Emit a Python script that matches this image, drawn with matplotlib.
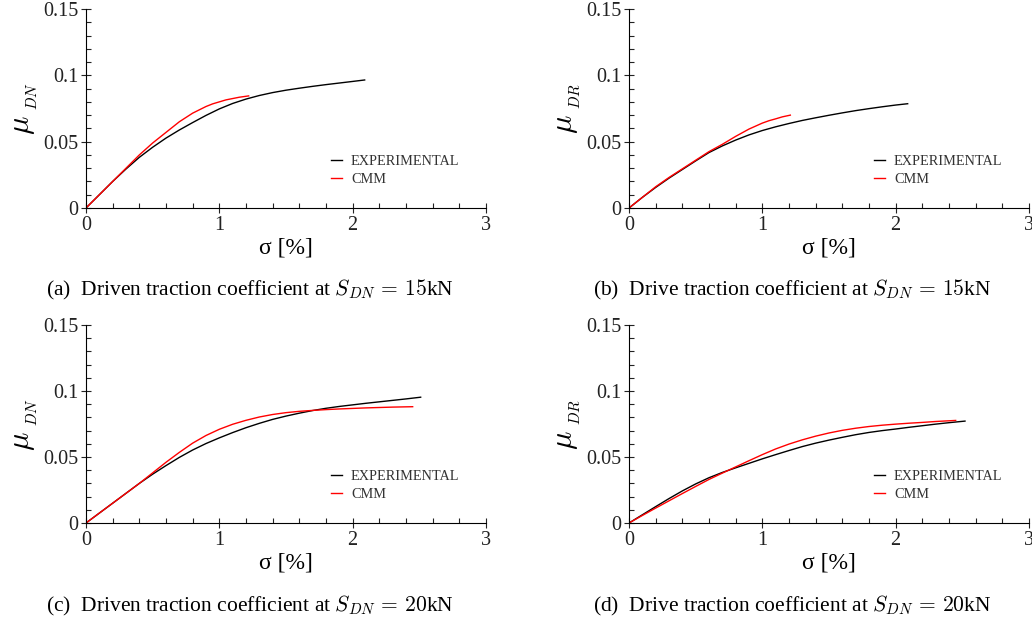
import numpy as np
import matplotlib.pyplot as plt
from matplotlib.ticker import MultipleLocator

plt.rcParams['font.family'] = ['Liberation Serif', 'DejaVu Serif']
plt.rcParams['mathtext.fontset'] = 'cm'

# =====================================
# Data (sigma in %, mu)
# =====================================
# (a) driven, 15 kN
a_exp_x = [0, 0.1, 0.2, 0.3, 0.4, 0.5, 0.6, 0.7, 0.8, 0.9, 1.0, 1.1, 1.2, 1.3, 1.4,
           1.5, 1.6, 1.7, 1.8, 1.9, 2.0, 2.09]
a_exp_y = [0, 0.0100, 0.0200, 0.0294, 0.0382, 0.0458, 0.0527, 0.0588, 0.0644, 0.0698,
           0.0747, 0.0788, 0.0821, 0.0848, 0.0870, 0.0888, 0.0903, 0.0917, 0.0930,
           0.0942, 0.0954, 0.0965]
a_cmm_x = [0, 0.1, 0.2, 0.3, 0.4, 0.5, 0.6, 0.7, 0.8, 0.9, 0.95, 1.0, 1.05, 1.1, 1.15, 1.22]
a_cmm_y = [0, 0.010, 0.020, 0.030, 0.040, 0.049, 0.057, 0.065, 0.0715, 0.0765, 0.0785,
           0.0800, 0.0815, 0.0825, 0.0835, 0.0845]

# (b) drive, 15 kN
b_exp_x = [0, 0.1, 0.2, 0.3, 0.4, 0.5, 0.6, 0.7, 0.8, 0.9, 1.0, 1.1, 1.2, 1.3, 1.4,
           1.5, 1.6, 1.7, 1.8, 1.9, 2.0, 2.09]
b_exp_y = [0, 0.008, 0.0155, 0.0225, 0.029, 0.0355, 0.0418, 0.0468, 0.0512, 0.0551,
           0.0584, 0.0612, 0.0637, 0.0660, 0.0680, 0.0699, 0.0717, 0.0734, 0.0749,
           0.0763, 0.0776, 0.0786]
b_cmm_x = [0, 0.1, 0.2, 0.3, 0.4, 0.5, 0.6, 0.7, 0.8, 0.9, 1.0, 1.05, 1.1, 1.15, 1.21]
b_cmm_y = [0, 0.008, 0.016, 0.023, 0.0295, 0.036, 0.0425, 0.048, 0.054, 0.0595, 0.064,
           0.0658, 0.0672, 0.0687, 0.070]

# (c) driven, 20 kN
c_exp_x = [0, 0.1, 0.2, 0.3, 0.4, 0.5, 0.6, 0.7, 0.8, 0.9, 1.0, 1.1, 1.2, 1.3, 1.4,
           1.5, 1.6, 1.7, 1.8, 1.9, 2.0, 2.1, 2.2, 2.3, 2.4, 2.51]
c_exp_y = [0, 0.0075, 0.015, 0.0225, 0.030, 0.037, 0.0435, 0.0497, 0.0553, 0.0602,
           0.0645, 0.0685, 0.0722, 0.0755, 0.0785, 0.0810, 0.0832, 0.0852, 0.0869,
           0.0883, 0.0895, 0.0907, 0.0918, 0.0929, 0.0940, 0.0953]
c_cmm_x = [0, 0.1, 0.2, 0.3, 0.4, 0.5, 0.6, 0.7, 0.8, 0.9, 1.0, 1.1, 1.2, 1.3, 1.4,
           1.5, 1.6, 1.7, 1.8, 1.9, 2.0, 2.1, 2.2, 2.3, 2.45]
c_cmm_y = [0, 0.0075, 0.015, 0.0225, 0.030, 0.038, 0.046, 0.0535, 0.0605, 0.0663,
           0.0710, 0.0748, 0.0778, 0.0803, 0.0822, 0.0836, 0.0846, 0.0853, 0.0859,
           0.0864, 0.0868, 0.0872, 0.0875, 0.0878, 0.0881]

# (d) drive, 20 kN
d_exp_x = [0, 0.1, 0.2, 0.3, 0.4, 0.5, 0.6, 0.7, 0.8, 0.9, 1.0, 1.1, 1.2, 1.3, 1.4,
           1.5, 1.6, 1.7, 1.8, 1.9, 2.0, 2.1, 2.2, 2.3, 2.4, 2.52]
d_exp_y = [0, 0.0062, 0.0124, 0.0185, 0.0243, 0.0296, 0.0343, 0.0383, 0.0418, 0.0452,
           0.0486, 0.0518, 0.0549, 0.0579, 0.0605, 0.0628, 0.0649, 0.0669, 0.0686,
           0.0700, 0.0712, 0.0725, 0.0737, 0.0749, 0.0760, 0.0772]
d_cmm_x = [0, 0.1, 0.2, 0.3, 0.4, 0.5, 0.6, 0.7, 0.8, 0.9, 1.0, 1.1, 1.2, 1.3, 1.4,
           1.5, 1.6, 1.7, 1.8, 1.9, 2.0, 2.1, 2.2, 2.3, 2.45]
d_cmm_y = [0, 0.0057, 0.0113, 0.0168, 0.0223, 0.0277, 0.033, 0.0378, 0.0425, 0.0472,
           0.0518, 0.0561, 0.0598, 0.0630, 0.0658, 0.0682, 0.0702, 0.0718, 0.0731,
           0.0741, 0.0749, 0.0756, 0.0762, 0.0769, 0.0777]

panels = [
    (a_exp_x, a_exp_y, a_cmm_x, a_cmm_y, r'$\mu_{\ {}_{DN}}$',
     r'(a)  Driven traction coefficient at $S_{DN}\,=\,15$kN'),
    (b_exp_x, b_exp_y, b_cmm_x, b_cmm_y, r'$\mu_{\ {}_{DR}}$',
     r'(b)  Drive traction coefficient at $S_{DN}\,=\,15$kN'),
    (c_exp_x, c_exp_y, c_cmm_x, c_cmm_y, r'$\mu_{\ {}_{DN}}$',
     r'(c)  Driven traction coefficient at $S_{DN}\,=\,20$kN'),
    (d_exp_x, d_exp_y, d_cmm_x, d_cmm_y, r'$\mu_{\ {}_{DR}}$',
     r'(d)  Drive traction coefficient at $S_{DN}\,=\,20$kN'),
]

# axes rectangles in figure fractions
W, H = 1032, 623
rects = [
    (86 / W, 1 - 208 / H, 400 / W, 199 / H),
    (629 / W, 1 - 208 / H, 400 / W, 199 / H),
    (86 / W, 1 - 523 / H, 400 / W, 198 / H),
    (629 / W, 1 - 523 / H, 400 / W, 198 / H),
]
caption_pos = [(250, 290), (792, 290), (250, 606), (792, 606)]

fig = plt.figure(figsize=(W / 100, H / 100), dpi=100)

for (ex, ey, cx, cy, ylab, cap), rect, cpos in zip(panels, rects, caption_pos):
    ax = fig.add_axes(rect)
    ax.plot(ex, ey, color='black', lw=1.0, label='EXPERIMENTAL')
    ax.plot(cx, cy, color='red', lw=1.0, label='CMM')
    ax.set_xlim(0, 3)
    ax.set_ylim(0, 0.15)
    ax.set_xticks([0, 1, 2, 3])
    ax.set_xticklabels(['0', '1', '2', '3'])
    ax.set_yticks([0, 0.05, 0.1, 0.15])
    ax.set_yticklabels(['0', '0.05', '0.1', '0.15'])
    ax.xaxis.set_minor_locator(MultipleLocator(0.2))
    ax.yaxis.set_minor_locator(MultipleLocator(0.01))
    ax.spines['top'].set_visible(False)
    ax.spines['right'].set_visible(False)
    ax.tick_params(which='major', direction='inout', length=7, width=0.8,
                   labelsize=14.5, colors='#222222', pad=2)
    ax.tick_params(which='minor', direction='in', length=3.5, width=0.8, colors='#222222')
    ax.set_xlabel('σ [%]', fontsize=17, labelpad=2)
    ax.set_ylabel(ylab, fontsize=22, labelpad=2)
    ax.legend(loc='center left', bbox_to_anchor=(0.6125, 0.19), frameon=False,
              fontsize=10.3, handlelength=0.8, handletextpad=0.6,
              labelspacing=0.35, borderpad=0, borderaxespad=0, labelcolor='#333333')
    fig.text(cpos[0] / W, 1 - cpos[1] / H, cap, fontsize=15.5,
             ha='center', va='center')

plt.savefig('out.png', dpi=100)
